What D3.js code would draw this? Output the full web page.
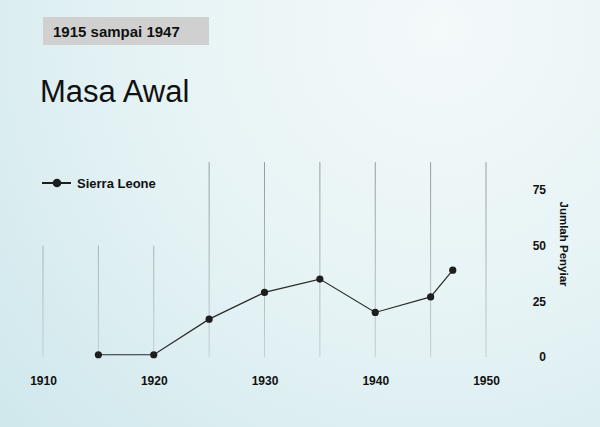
<!DOCTYPE html>
<html>
<head>
<meta charset="utf-8">
<script src="https://cdn.jsdelivr.net/npm/d3@7"></script>
<style>
  html, body { margin: 0; padding: 0; }
  body { width: 600px; height: 427px; overflow: hidden; }
  text { font-family: "Liberation Sans", Arial, sans-serif; fill: #111; }
</style>
</head>
<body>
<script>
// data
const years = [1915, 1920, 1925, 1930, 1935, 1940, 1945, 1947];
const broadcasters = [1, 1, 17, 29, 35, 20, 27, 39];
const seriesName = "Sierra Leone";
const xTicks = [1910, 1920, 1930, 1940, 1950];
const gridYears = [1910, 1915, 1920, 1925, 1930, 1935, 1940, 1945, 1950];
const yTicks = [0, 25, 50, 75];

const w = 600, h = 427;

const svg = d3.select("body").append("svg")
  .attr("width", w)
  .attr("height", h);

const defs = svg.append("defs");
const bg = defs.append("radialGradient")
  .attr("id", "bg")
  .attr("gradientUnits", "userSpaceOnUse")
  .attr("cx", 440).attr("cy", 30).attr("r", 580);
bg.append("stop").attr("offset", "0%").attr("stop-color", "#f4f9fa");
bg.append("stop").attr("offset", "50%").attr("stop-color", "#e6f3f5");
bg.append("stop").attr("offset", "100%").attr("stop-color", "#d0e8ec");

const gridGrad = defs.append("linearGradient")
  .attr("id", "grid")
  .attr("gradientUnits", "userSpaceOnUse")
  .attr("x1", 0).attr("y1", 163).attr("x2", 0).attr("y2", 357);
gridGrad.append("stop").attr("offset", "0%").attr("stop-color", "#939c9e");
gridGrad.append("stop").attr("offset", "100%").attr("stop-color", "#c3d0d3");

svg.append("rect").attr("width", w).attr("height", h).attr("fill", "url(#bg)");

// header
svg.append("rect")
  .attr("x", 43).attr("y", 17).attr("width", 166).attr("height", 28)
  .attr("fill", "#d0d0d0");
svg.append("text")
  .attr("x", 53).attr("y", 37)
  .style("font-size", "15px").style("font-weight", "bold")
  .text("1915 sampai 1947");

svg.append("text")
  .attr("x", 40).attr("y", 102)
  .style("font-size", "31px")
  .text("Masa Awal");

// scales
const x = d3.scaleLinear().domain([1910, 1950]).range([43, 486]);
const y = d3.scaleLinear().domain([0, 75]).range([357, 190]);

// grid lines
svg.append("g").selectAll("line")
  .data(gridYears)
  .join("line")
  .attr("x1", d => x(d)).attr("x2", d => x(d))
  .attr("y1", y(0))
  .attr("y2", d => d < 1925 ? y(50) : y(87.5))
  .attr("stroke", "url(#grid)")
  .attr("stroke-width", 1);

// x axis
const xAxis = svg.append("g")
  .attr("transform", "translate(0," + (y(0) + 16) + ")")
  .call(d3.axisBottom(x).tickValues(xTicks).tickFormat(d3.format("d")).tickSize(0));
xAxis.select(".domain").remove();
xAxis.selectAll("text")
  .style("font-size", "12px").style("font-weight", "bold")
  .style("font-family", "'Liberation Sans', Arial, sans-serif")
  .attr("fill", "#111");

// y axis on the right
const yAxis = svg.append("g")
  .attr("transform", "translate(546,0)")
  .call(d3.axisLeft(y).tickValues(yTicks).tickSize(0).tickPadding(0));
yAxis.select(".domain").remove();
yAxis.selectAll("text")
  .style("font-size", "12px").style("font-weight", "bold")
  .style("font-family", "'Liberation Sans', Arial, sans-serif")
  .attr("fill", "#111");

svg.append("text")
  .attr("transform", "translate(560,244) rotate(90)")
  .attr("text-anchor", "middle")
  .style("font-size", "11.5px").style("font-weight", "bold")
  .text("Jumlah Penyiar");

// series
const pts = years.map((d, i) => ({ year: d, value: broadcasters[i] }));
const line = d3.line().x(d => x(d.year)).y(d => y(d.value));

svg.append("path")
  .datum(pts)
  .attr("d", line)
  .attr("fill", "none")
  .attr("stroke", "#2a2a2a")
  .attr("stroke-width", 1.2);

svg.append("g").selectAll("circle")
  .data(pts)
  .join("circle")
  .attr("cx", d => x(d.year))
  .attr("cy", d => y(d.value))
  .attr("r", 3.6)
  .attr("fill", "#1e1e1e");

// legend
const legend = svg.append("g").attr("transform", "translate(42,183)");
legend.append("line")
  .attr("x1", 0).attr("x2", 29)
  .attr("stroke", "#1e1e1e").attr("stroke-width", 2);
legend.append("circle")
  .attr("cx", 15).attr("r", 4.3)
  .attr("fill", "#1e1e1e");
legend.append("text")
  .attr("x", 35).attr("y", 4.5)
  .style("font-size", "13px").style("font-weight", "bold")
  .text(seriesName);
</script>
</body>
</html>
